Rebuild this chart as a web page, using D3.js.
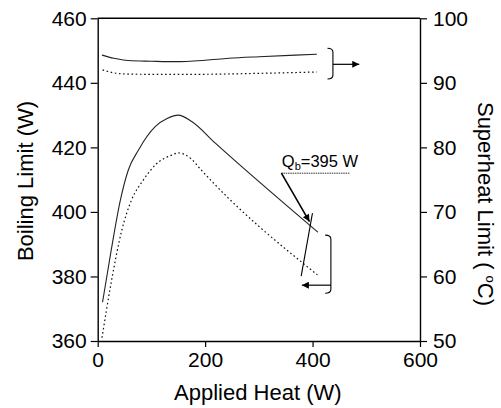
<!DOCTYPE html>
<html>
<head>
<meta charset="UTF-8">
<script src="https://d3js.org/d3.v7.min.js"></script>
<style>
  body { margin: 0; background: #fff; }
  svg text { font-family: "Liberation Sans", Arial, Helvetica, sans-serif; fill: #000; }
</style>
</head>
<body>
<div id="chart"></div>
<script>
// boiling limit (left axis, W) vs applied heat (W)
const boilSolidHeat = [9, 25, 42, 57, 76, 107, 130, 150, 175, 219, 410];
const boilSolid     = [372, 388, 403.5, 413, 419.2, 426.4, 429, 430, 428, 421.3, 393.7];
const boilDotHeat   = [8, 25, 45, 63, 85, 110, 138, 150, 175, 190, 409];
const boilDot       = [361, 378, 394.4, 403.7, 409.9, 415, 417.6, 418.3, 416.3, 413.5, 380.5];

// superheat limit (right axis, °C)
const supSolidHeat = [8, 30, 57, 100, 144, 200, 244, 300, 368, 408];
const supSolid     = [94.3, 93.8, 93.45, 93.35, 93.28, 93.5, 93.8, 94.05, 94.3, 94.42];
const supDotHeat   = [9, 30, 51, 100, 181, 306, 408];
const supDot       = [92.0, 91.55, 91.37, 91.32, 91.32, 91.48, 91.68];

const xTicks = [0, 200, 400, 600];
const yLeftTicks = [360, 380, 400, 420, 440, 460];
const yRightTicks = [50, 60, 70, 80, 90, 100];
const qbLabel = "395 W";

const W = 501, H = 408;
const margin = {top: 18.3, right: 81, bottom: 67, left: 97.7},
      width = W - margin.left - margin.right,
      height = H - margin.top - margin.bottom;

const svg = d3.select("#chart").append("svg")
  .attr("width", W).attr("height", H);

const defs = svg.append("defs");
defs.append("marker")
  .attr("id", "arrow")
  .attr("viewBox", "0 0 10 10")
  .attr("refX", 10).attr("refY", 5)
  .attr("markerWidth", 10).attr("markerHeight", 7)
  .attr("markerUnits", "userSpaceOnUse")
  .attr("orient", "auto")
  .append("path").attr("d", "M0,0 L10,5 L0,10 Z").attr("fill", "#000");

const g = svg.append("g").attr("transform", `translate(${margin.left},${margin.top})`);

const x = d3.scaleLinear().domain([0, 600]).range([0, width]);
const yL = d3.scaleLinear().domain([360, 460]).range([height, 0]);
const yR = d3.scaleLinear().domain([50, 100]).range([height, 0]);

function styleAxis(sel) {
  sel.selectAll("path.domain").attr("stroke", "#000").attr("stroke-width", 1.4);
  sel.selectAll(".tick line").attr("stroke", "#000").attr("stroke-width", 1.2);
  sel.selectAll(".tick text").attr("font-size", 21)
    .style("font-family", '"Liberation Sans", Arial, sans-serif');
}

g.append("g").call(d3.axisLeft(yL).tickValues(yLeftTicks).tickSize(7).tickSizeOuter(0).tickPadding(4))
  .call(styleAxis);
g.append("g").attr("transform", `translate(${width},0)`)
  .call(d3.axisRight(yR).tickValues(yRightTicks).tickSize(7).tickSizeOuter(0).tickPadding(6))
  .call(styleAxis);
g.append("g").attr("transform", `translate(0,${height})`)
  .call(d3.axisBottom(x).tickValues(xTicks).tickSize(6).tickSizeOuter(0).tickPadding(5))
  .call(styleAxis);
g.append("line").attr("x1", 0).attr("x2", width).attr("y1", 0).attr("y2", 0)
  .attr("stroke", "#000").attr("stroke-width", 1.4);

// curves
function drawCurve(xs, ys, yScale, dashed) {
  const pts = xs.map((d, i) => [d, ys[i]]);
  g.append("path")
    .datum(pts)
    .attr("fill", "none")
    .attr("stroke", dashed ? "#111" : "#222")
    .attr("stroke-width", dashed ? 1.2 : 1.1)
    .attr("stroke-dasharray", dashed ? "1.6,2.6" : null)
    .attr("d", d3.line().x(d => x(d[0])).y(d => yScale(d[1])).curve(d3.curveMonotoneX));
}
drawCurve(boilSolidHeat, boilSolid, yL, false);
drawCurve(boilDotHeat, boilDot, yL, true);
drawCurve(supSolidHeat, supSolid, yR, false);
drawCurve(supDotHeat, supDot, yR, true);

// Q_b annotation
const qb = g.append("text").attr("x", x(342.8)).attr("y", yL(413.9)).attr("font-size", 16.5);
qb.append("tspan").text("Q");
qb.append("tspan").attr("font-size", 11).attr("dy", 3).text("b");
qb.append("tspan").attr("dy", -3).text("=" + qbLabel);

g.append("line")
  .attr("x1", x(341.5)).attr("x2", x(470)).attr("y1", yL(412)).attr("y2", yL(412))
  .attr("stroke", "#333").attr("stroke-width", 1).attr("stroke-dasharray", "1.5,0.8");
g.append("line")
  .attr("x1", x(342)).attr("y1", yL(412)).attr("x2", x(394.2)).attr("y2", yL(397))
  .attr("stroke", "#000").attr("stroke-width", 1.6).attr("marker-end", "url(#arrow)");
g.append("line")
  .attr("x1", x(399.8)).attr("y1", yL(399.6)).attr("x2", x(378.8)).attr("y2", yL(380.1))
  .attr("stroke", "#000").attr("stroke-width", 1.1);

// brackets with arrows
function bracket(x0, x1, yTop, yBot, r) {
  return `M${x0},${yTop} Q${x1},${yTop} ${x1},${yTop + r} L${x1},${yBot - r} Q${x1},${yBot} ${x0},${yBot}`;
}
g.append("path")
  .attr("d", bracket(x(427.8), x(437.9), yR(95.35), yR(90.6), 4))
  .attr("fill", "none").attr("stroke", "#000").attr("stroke-width", 1.1);
g.append("line")
  .attr("x1", x(437.9)).attr("x2", x(486.9)).attr("y1", yR(92.87)).attr("y2", yR(92.87))
  .attr("stroke", "#000").attr("stroke-width", 1.2).attr("marker-end", "url(#arrow)");

g.append("path")
  .attr("d", bracket(x(423.5), x(434.1), yL(392.8), yL(374.8), 4))
  .attr("fill", "none").attr("stroke", "#000").attr("stroke-width", 1.1);
g.append("line")
  .attr("x1", x(434.1)).attr("x2", x(380.1)).attr("y1", yL(377.3)).attr("y2", yL(377.3))
  .attr("stroke", "#000").attr("stroke-width", 1.2).attr("marker-end", "url(#arrow)");

// axis titles
svg.append("text")
  .attr("x", margin.left + width / 2 - 1).attr("y", 400)
  .attr("text-anchor", "middle").attr("font-size", 22)
  .text("Applied Heat (W)");
svg.append("text")
  .attr("transform", `translate(33,181) rotate(-90)`)
  .attr("text-anchor", "middle").attr("font-size", 22)
  .text("Boiling Limit (W)");
const rt = svg.append("text")
  .attr("transform", `translate(478,204) rotate(90)`)
  .attr("text-anchor", "middle").attr("font-size", 22);
rt.append("tspan").text("Superheat Limit ( ");
rt.append("tspan").attr("font-size", 13).attr("dy", -8).text("o");
rt.append("tspan").attr("dy", 8).text("C)");
</script>
</body>
</html>
